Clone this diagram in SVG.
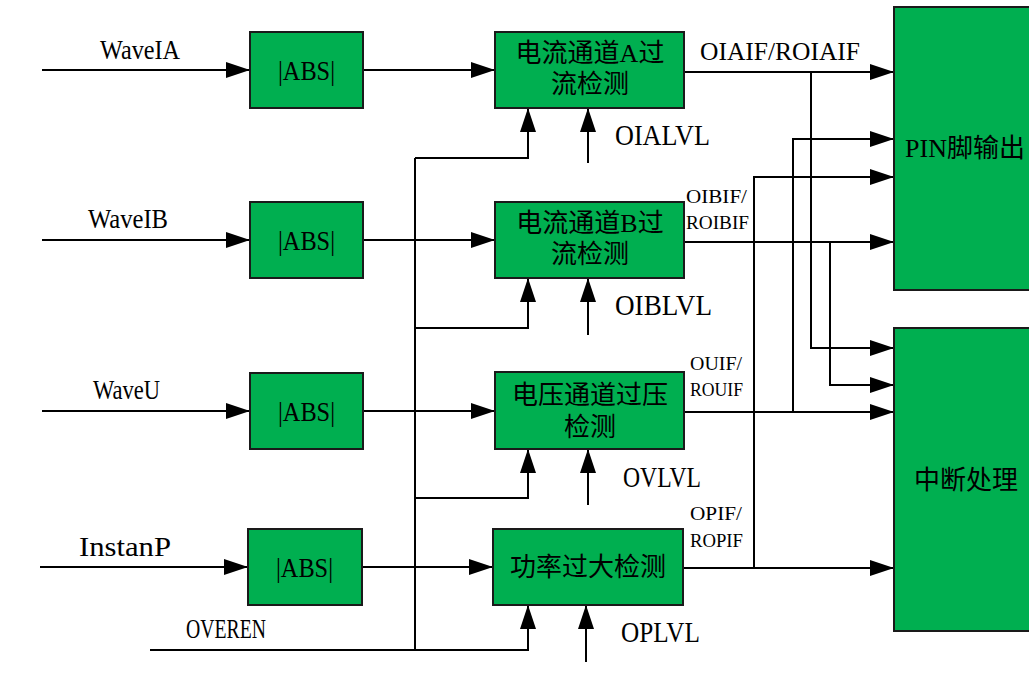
<svg xmlns="http://www.w3.org/2000/svg" width="1029" height="690" viewBox="0 0 1029 690">
<style>
.box{fill:#00AF50;stroke:#1a1a1a;stroke-width:2}
.ln{fill:none;stroke:#000;stroke-width:2}
.lbl{font-family:"Liberation Serif",serif;fill:#000}
.cjk{font-family:"Liberation Serif","Noto Sans CJK SC",sans-serif;font-size:26px;fill:#000;text-anchor:middle}
.abs{font-family:"Liberation Serif",serif;font-size:28px;fill:#000}
</style>
<defs>
<marker id="ah" markerUnits="userSpaceOnUse" markerWidth="24" markerHeight="16" refX="24" refY="8" orient="auto">
<path d="M0,0 L24,8 L0,16 z" fill="#000"/>
</marker>
</defs>
<rect width="1029" height="690" fill="#fff"/>
<g id="connectors" class="ln" marker-end="url(#ah)">
<path d="M42,70 H250"/>
<path d="M363,70 H495"/>
<path d="M42,240 H250"/>
<path d="M363,240 H495"/>
<path d="M42,411 H250"/>
<path d="M363,411 H495"/>
<path d="M40,567 H248"/>
<path d="M362,567 H493"/>
<path d="M150,650 H415 V158" marker-end="none"/>
<path d="M415,158 H528 V108"/>
<path d="M415,328 H528 V278"/>
<path d="M415,498 H528 V449"/>
<path d="M415,650 H528 V605"/>
<path d="M588,163 V108"/>
<path d="M588,335 V278"/>
<path d="M588,505 V449"/>
<path d="M586,662 V605"/>
<path d="M684,72 H894"/>
<path d="M811,72 V348 H894"/>
<path d="M684,242 H894"/>
<path d="M830,242 V385 H894"/>
<path d="M684,412 H894"/>
<path d="M793,412 V139 H894"/>
<path d="M683,568 H894"/>
<path d="M754,568 V177 H894"/>
</g>
<g id="abs1"><rect class="box" x="250" y="32" width="113" height="76"/><text class="abs" x="278" y="80" textLength="57" lengthAdjust="spacingAndGlyphs">|ABS|</text></g>
<g id="abs2"><rect class="box" x="250" y="202" width="113" height="76"/><text class="abs" x="278" y="250" textLength="57" lengthAdjust="spacingAndGlyphs">|ABS|</text></g>
<g id="abs3"><rect class="box" x="250" y="373" width="113" height="76"/><text class="abs" x="278" y="421" textLength="57" lengthAdjust="spacingAndGlyphs">|ABS|</text></g>
<g id="abs4"><rect class="box" x="248" y="529" width="114" height="76"/><text class="abs" x="276" y="577" textLength="57" lengthAdjust="spacingAndGlyphs">|ABS|</text></g>
<g id="detA"><rect class="box" x="495" y="32" width="189" height="76"/><text class="cjk" x="590" y="62">电流通道A过</text><text class="cjk" x="590" y="93">流检测</text></g>
<g id="detB"><rect class="box" x="495" y="202" width="189" height="76"/><text class="cjk" x="590" y="232">电流通道B过</text><text class="cjk" x="590" y="263">流检测</text></g>
<g id="detU"><rect class="box" x="495" y="372" width="189" height="77"/><text class="cjk" x="590" y="404">电压通道过压</text><text class="cjk" x="590" y="436">检测</text></g>
<g id="detP"><rect class="box" x="493" y="529" width="190" height="76"/><text class="cjk" x="588" y="576">功率过大检测</text></g>
<g id="pin"><rect class="box" x="894" y="7" width="145" height="283"/><text class="cjk" x="965" y="157">PIN脚输出</text></g>
<g id="irq"><rect class="box" x="894" y="328" width="145" height="303"/><text class="cjk" x="966" y="489">中断处理</text></g>
<g id="labels" class="lbl">
<text x="100" y="59" font-size="28" textLength="80" lengthAdjust="spacingAndGlyphs">WaveIA</text>
<text x="88" y="228" font-size="28" textLength="80" lengthAdjust="spacingAndGlyphs">WaveIB</text>
<text x="93" y="399" font-size="28" textLength="67" lengthAdjust="spacingAndGlyphs">WaveU</text>
<text x="79" y="556" font-size="28" textLength="92" lengthAdjust="spacingAndGlyphs">InstanP</text>
<text x="186" y="638" font-size="28" textLength="80" lengthAdjust="spacingAndGlyphs">OVEREN</text>
<text x="615" y="145" font-size="30" textLength="95" lengthAdjust="spacingAndGlyphs">OIALVL</text>
<text x="615" y="315" font-size="30" textLength="97" lengthAdjust="spacingAndGlyphs">OIBLVL</text>
<text x="623" y="487" font-size="30" textLength="78" lengthAdjust="spacingAndGlyphs">OVLVL</text>
<text x="621" y="642" font-size="30" textLength="79" lengthAdjust="spacingAndGlyphs">OPLVL</text>
<text x="700" y="60" font-size="26" textLength="160" lengthAdjust="spacingAndGlyphs">OIAIF/ROIAIF</text>
<text x="686" y="203" font-size="19" textLength="61" lengthAdjust="spacingAndGlyphs">OIBIF/</text>
<text x="686" y="229" font-size="19" textLength="63" lengthAdjust="spacingAndGlyphs">ROIBIF</text>
<text x="690" y="370" font-size="19" textLength="52" lengthAdjust="spacingAndGlyphs">OUIF/</text>
<text x="690" y="396" font-size="19" textLength="53" lengthAdjust="spacingAndGlyphs">ROUIF</text>
<text x="690" y="520" font-size="19" textLength="52" lengthAdjust="spacingAndGlyphs">OPIF/</text>
<text x="690" y="547" font-size="19" textLength="53" lengthAdjust="spacingAndGlyphs">ROPIF</text>
</g>
</svg>
